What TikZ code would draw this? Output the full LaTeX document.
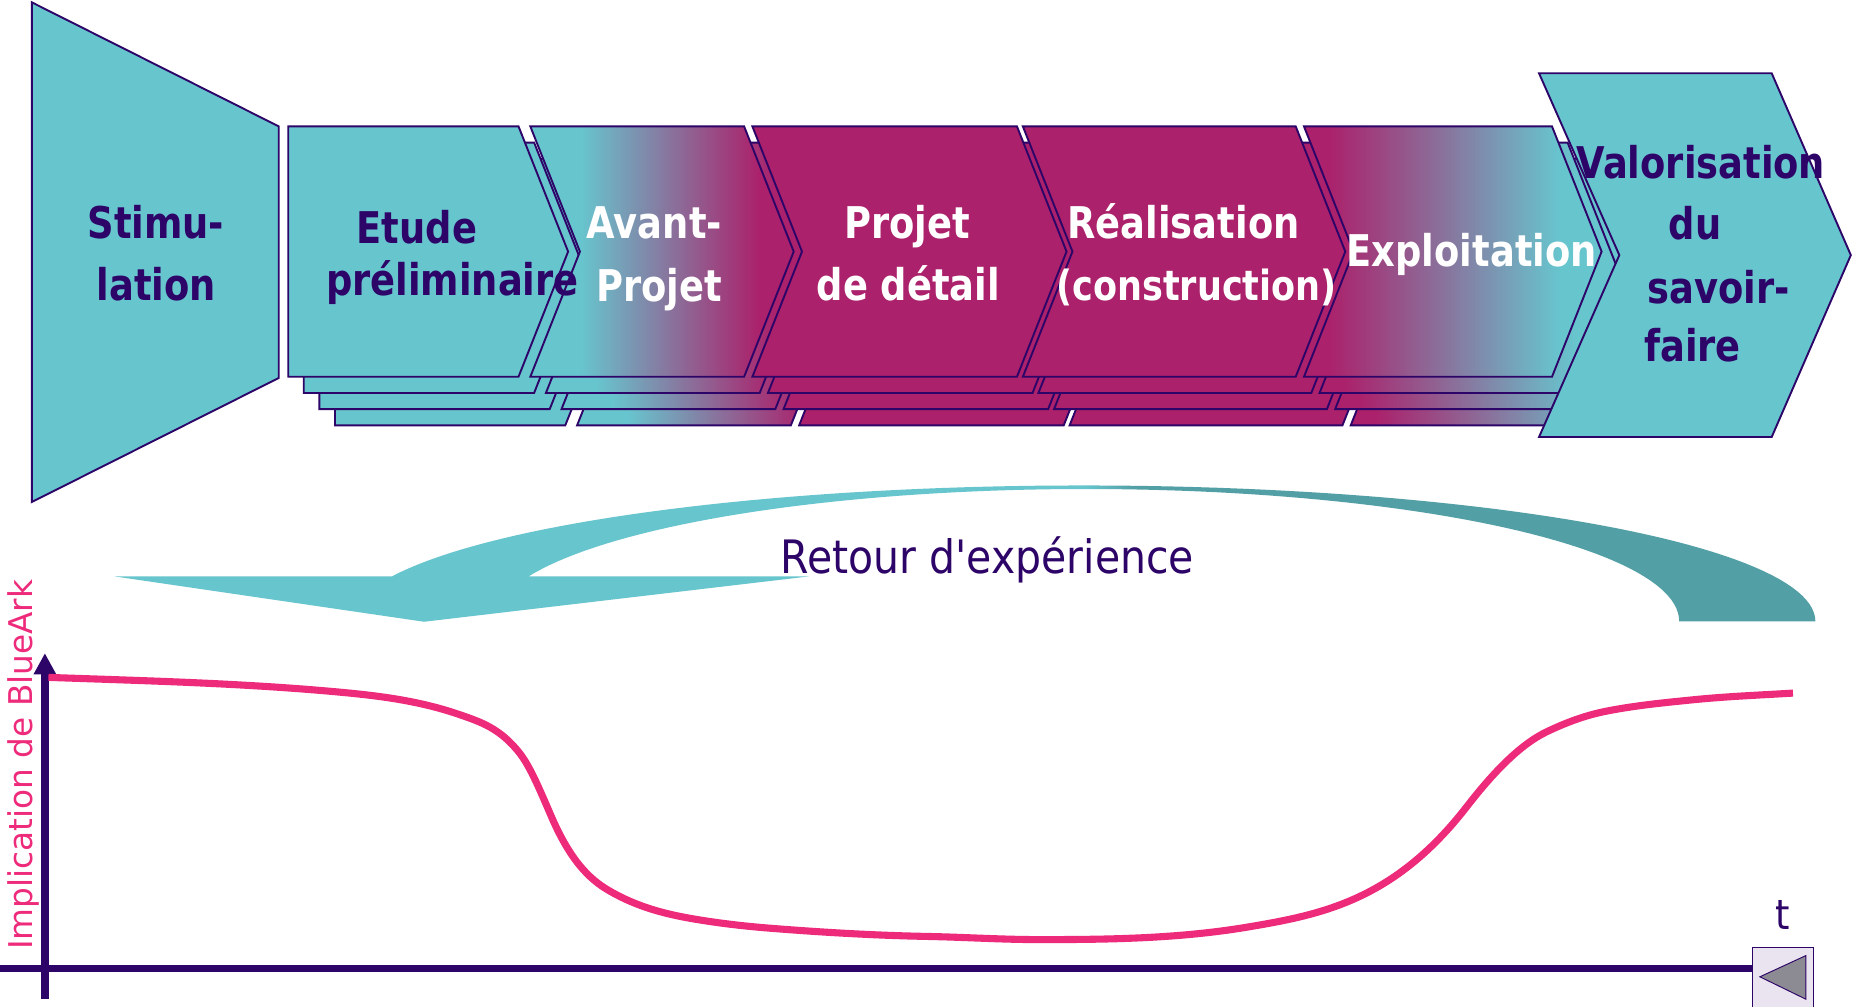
\documentclass[tikz,border=0pt]{standalone}
\usepackage{fontspec}
\setmainfont{DejaVu Sans}
\newfontfamily\chevfont[FakeStretch=0.843]{DejaVu Sans}
\newfontfamily\retfont[FakeStretch=0.89,Ligatures=TeXOff]{DejaVu Sans}
\usetikzlibrary{arrows.meta}
\definecolor{cy}{RGB}{103,197,206}
\definecolor{mg}{RGB}{171,33,107}
\definecolor{dk}{RGB}{45,4,104}
\definecolor{tl}{RGB}{82,159,165}
\definecolor{pk}{RGB}{238,42,123}
\definecolor{lav}{RGB}{234,228,240}
\definecolor{gr}{RGB}{140,138,147}
\pgfdeclarehorizontalshading{avsh}{100bp}{color(0bp)=(cy); color(34.5bp)=(cy); color(68.5bp)=(mg); color(100bp)=(mg)}
\pgfdeclarehorizontalshading{exsh}{100bp}{color(0bp)=(mg); color(29bp)=(mg); color(68bp)=(cy); color(100bp)=(cy)}
\pgfdeclarehorizontalshading{retsh}{100bp}{color(0bp)=(cy); color(53.5bp)=(cy); color(55bp)=(tl); color(100bp)=(tl)}
% #1 options, #2 left x, #3 right x, #4 notch depth
\newcommand\chevshape[4]{%
  \path[#1] (#2,107) -- (#3,107) -- ({#3+42},213) -- (#3,319) -- (#2,319) -- ({#2+#4},213) -- cycle;}
\newcommand\chevstack[4]{%
  \foreach \k in {3,2,1}{\begin{scope}[shift={(13.2*\k,13.7*\k)}]\chevshape{#1}{#2}{#3}{#4}\end{scope}}%
  \chevshape{#1}{#2}{#3}{#4}}
\tikzset{
  outl/.style={draw=dk, line width=0.8pt, line join=miter},
  cyfill/.style={outl, fill=cy},
  mgfill/.style={outl, fill=mg},
  avfill/.style={outl, shade, shading=avsh},
  exfill/.style={outl, shade, shading=exsh},
  dklabel/.style={text=dk, font=\chevfont\bfseries\fontsize{18.5}{20}\selectfont, anchor=base, inner sep=0pt},
  wlabel/.style={dklabel, text=white},
  axisline/.style={draw=dk, line width=3.3pt},
  curveline/.style={draw=pk, line width=3pt, line cap=butt, line join=round},
}
\begin{document}
\begin{tikzpicture}[x=0.5pt,y=-0.5pt]
\useasboundingbox (0,0) rectangle (1568,852);
\fill[white] (0,0) rectangle (1568,852);

% Stimulation trapezoid
\path[cyfill] (27,2) -- (236,107) -- (236,320) -- (27,425) -- cycle;

% chevron stacks
\chevstack{cyfill}{244}{439}{0}
\chevstack{avfill}{449}{630}{42}
\chevstack{mgfill}{637}{861}{42}
\chevstack{mgfill}{866}{1097}{42}
\chevstack{exfill}{1104}{1314}{42}

% Valorisation
\path[cyfill] (1303,62) -- (1500,62) -- (1567,216) -- (1500,370) -- (1303,370) -- (1371,216) -- cycle;

% labels
\node[dklabel] (st1) at (132,202) {Stimu-};
\node[dklabel] (st2) at (132.5,254) {lation};
\node[dklabel] (et1) at (353,206) {Etude};
\node[dklabel] (et2) at (383,250) {préliminaire};
\node[wlabel] (av1) at (554,202) {Avant-};
\node[wlabel] (av2) at (558,255) {Projet};
\node[wlabel] (pd1) at (768,202) {Projet};
\node[wlabel] (pd2) at (769,254) {de détail};
\node[wlabel] (re1) at (1002,202) {Réalisation};
\node[wlabel, font=\chevfont\bfseries\fontsize{17.6}{19}\selectfont] (re2) at (1013,254) {(construction)};
\node[wlabel] (ex1) at (1246,226) {Exploitation};
\node[dklabel] (va1) at (1440,151) {Valorisation};
\node[dklabel] (va2) at (1435,203) {du};
\node[dklabel] (va3) at (1455,257) {savoir-};
\node[dklabel] (va4) at (1433,306) {faire};

% Retour d'experience arrow
\path[shade, shading=retsh]
  plot[domain=-160.7:0, samples=90] ({917+620*cos(\x)},{526+115*sin(\x)})
  -- plot[domain=0:-160.2, samples=90] ({919.7+502*cos(\x)},{526+112*sin(\x)})
  -- (685,488) -- (359,526.4) -- (97,488) -- cycle;
\node[text=dk, font=\retfont\fontsize{19.5}{21}\selectfont, anchor=base west, inner sep=0pt] (ret) at (660.5,485.5) {Retour d'expérience};

% axes
\coordinate (O) at (38,846);
\coordinate (Ytop) at (38,553);
\coordinate (Xl) at (0,820);
\coordinate (Xr) at (1484,820);
\draw[axisline] (Xl) -- (Xr);
\draw[axisline, -{Triangle[width=9pt,length=9pt]}] (O) -- (Ytop);
\node[text=pk, font=\fontsize{13.85}{15}\selectfont, rotate=90, anchor=base, inner sep=0pt] (ylab) at (27.5,647.4) {Implication de BlueArk};
\node[text=dk, font=\retfont\fontsize{17.5}{19}\selectfont, anchor=base, inner sep=0pt] (tlab) at (1509,787) {t};

% end box
\path[draw=dk, line width=0.4pt, fill=lav] (1484,802) rectangle (1535,853);
\path[draw=dk, line width=0.4pt, fill=gr] (1490,827) -- (1529,809) -- (1529,846) -- cycle;

% implication curve
\draw[curveline] (41,573.5)
  .. controls (121.77,576.33) and (202.53,578.33) .. (283.3,585.6)
  .. controls (318.93,588.81) and (354.57,592.93) .. (390.2,605.4)
  .. controls (406.83,611.22) and (423.47,616.51) .. (440.1,637.8)
  .. controls (449.03,649.23) and (457.97,670.86) .. (466.9,691.5)
  .. controls (482.9,728.46) and (498.9,744.16) .. (514.9,753.6)
  .. controls (540.83,768.9) and (566.77,774.75) .. (592.7,778.9)
  .. controls (611.8,781.96) and (630.9,784.17) .. (650,785.7)
  .. controls (694.67,789.27) and (739.33,791.91) .. (784,792.8)
  .. controls (816,793.4) and (848,795.5) .. (880,795.5)
  .. controls (939.33,795.5) and (998.67,794.7) .. (1058,784.6)
  .. controls (1119.3,774.2) and (1180.5,762.1) .. (1241.8,683)
  .. controls (1264.4,653.85) and (1287,630.35) .. (1309.6,619.5)
  .. controls (1326.07,611.6) and (1342.53,605.6) .. (1359,602.3)
  .. controls (1384,597.3) and (1409,594.9) .. (1434,592.4)
  .. controls (1462,589.6) and (1490,588.5) .. (1518,586.8);
\end{tikzpicture}
\end{document}
